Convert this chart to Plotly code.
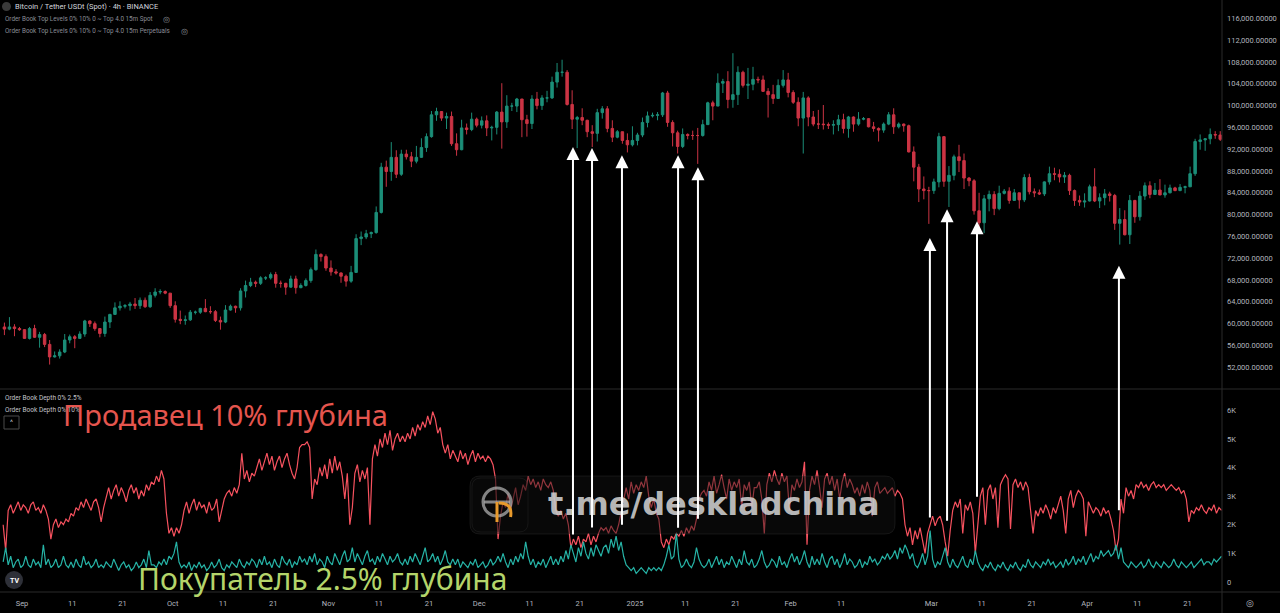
import pandas as pd
import plotly.graph_objects as go

# ---------------- DATA ----------------
# Daily BTC/USDT candles (thousands of USDT), 2024-08-28 .. 2025-04-27
price_first_day = "2024-08-28 12:00"
price_open = [
    59.4, 59.0, 59.4, 59.1,
    58.9, 57.3, 59.1, 57.5, 58.0, 56.2, 53.9, 54.1, 54.8, 57.0, 57.6, 57.3, 58.1, 60.5, 60.0, 59.1, 58.2, 60.3, 61.7, 62.9, 63.2, 63.3, 63.6, 63.3, 64.3, 63.1, 65.2, 65.8, 65.9, 65.6,
    63.3, 60.8, 60.6, 60.7, 62.1, 62.1, 62.8, 62.2, 62.2, 60.6, 60.3, 62.5, 63.2, 62.9, 66.0, 67.0, 67.6, 67.4, 68.4, 68.4, 69.0, 67.4, 67.4, 66.7, 68.2, 66.6, 67.0, 67.9, 69.9, 72.7, 72.3,
    70.2, 69.5, 69.3, 68.7, 67.8, 69.4, 75.6, 75.9, 76.5, 76.7, 80.4, 88.7, 87.9, 90.5, 87.4, 91.1, 90.6, 89.8, 90.5, 92.3, 94.3, 98.3, 98.9, 97.7, 98.0, 93.0, 91.9, 95.9, 95.6, 97.5,
    96.4, 97.2, 95.9, 96.0, 98.8, 97.0, 99.9, 99.9, 101.2, 97.4, 96.7, 101.2, 100.0, 101.4, 101.4, 104.3, 106.1, 106.1, 100.2, 97.5, 97.8, 97.3, 95.2, 94.9, 98.7, 99.4, 95.8, 94.2, 95.2, 93.6, 92.8,
    93.6, 94.6, 96.9, 98.1, 98.2, 98.3, 102.3, 96.9, 95.0, 92.5, 94.7, 94.5, 94.5, 94.5, 96.5, 100.5, 99.9, 104.1, 104.4, 101.1, 102.0, 106.1, 103.7, 103.9, 104.8, 104.7, 102.6, 102.0, 101.3, 103.7, 104.7,
    102.4, 100.6, 97.7, 101.4, 97.9, 96.6, 96.6, 96.5, 96.4, 96.5, 97.4, 95.8, 97.9, 96.6, 97.5, 97.6, 96.1, 95.8, 95.5, 96.6, 98.3, 96.1, 96.6, 96.3, 91.5, 88.7, 84.7, 84.4,
    84.4, 86.0, 94.3, 86.1, 87.2, 90.6, 89.9, 86.7, 86.2, 80.7, 78.5, 82.9, 83.7, 81.1, 83.9, 84.3, 82.6, 84.0, 82.7, 86.8, 84.2, 84.0, 83.8, 86.0, 87.5, 87.4, 86.9, 87.2, 84.4, 82.6, 82.3,
    82.5, 85.1, 82.5, 83.1, 83.8, 83.5, 78.4, 79.1, 76.3, 82.6, 79.6, 83.4, 85.3, 83.7, 84.5, 83.6, 84.0, 84.9, 84.4, 85.0, 85.1, 87.5, 93.4, 93.7, 93.9, 94.7, 94.6,
]
price_high = [
    60.2, 61.2, 59.9, 59.4,
    59.0, 59.4, 59.8, 58.5, 58.3, 57.0, 54.9, 55.3, 58.1, 58.0, 57.9, 58.6, 60.7, 60.6, 60.4, 59.2, 61.3, 61.8, 63.9, 64.1, 63.6, 64.0, 64.7, 64.8, 64.8, 65.8, 66.5, 66.3, 66.1, 65.6,
    64.1, 62.4, 61.5, 62.5, 62.4, 62.9, 64.5, 63.2, 62.5, 61.3, 63.4, 63.5, 63.3, 66.5, 67.9, 68.4, 67.9, 68.7, 68.7, 69.4, 69.5, 67.9, 67.5, 68.8, 68.8, 67.4, 68.3, 70.3, 73.6, 72.9, 72.7,
    71.6, 70.0, 69.4, 69.0, 70.6, 76.4, 76.9, 77.2, 76.9, 81.5, 89.5, 89.9, 93.3, 91.8, 91.9, 91.9, 91.5, 92.6, 94.0, 94.9, 99.0, 99.6, 99.0, 98.7, 98.9, 94.9, 97.4, 96.7, 98.7, 97.8,
    98.0, 98.2, 96.3, 99.0, 104.1, 101.9, 100.5, 101.4, 101.2, 98.3, 101.9, 102.5, 101.9, 102.7, 105.3, 107.8, 108.4, 106.5, 102.8, 98.1, 99.5, 97.4, 96.4, 99.4, 99.9, 99.9, 97.3, 95.5, 95.2, 94.9, 96.2,
    95.0, 97.8, 98.9, 98.7, 98.8, 102.5, 102.7, 97.3, 95.4, 95.8, 94.9, 95.4, 95.9, 97.4, 100.7, 100.9, 105.9, 104.9, 106.3, 109.6, 107.2, 106.4, 106.9, 107.1, 105.3, 105.5, 103.2, 103.8, 104.8, 106.5, 106.0,
    102.8, 101.5, 102.5, 101.7, 99.0, 99.2, 100.1, 96.9, 97.3, 98.3, 98.5, 98.1, 98.0, 98.8, 97.9, 97.7, 97.0, 96.0, 96.9, 98.8, 99.5, 96.9, 96.7, 96.5, 92.5, 89.3, 87.0, 85.1,
    86.6, 95.0, 94.4, 88.9, 91.0, 92.8, 91.2, 86.9, 86.5, 84.0, 83.6, 84.4, 84.3, 85.3, 84.7, 85.0, 84.7, 84.0, 87.4, 87.5, 84.8, 84.6, 86.1, 88.8, 88.6, 88.3, 87.8, 87.5, 84.6, 83.5, 83.9,
    85.5, 88.5, 83.9, 84.7, 84.2, 83.8, 81.2, 80.8, 83.6, 82.7, 84.3, 85.9, 86.1, 85.8, 86.5, 85.5, 85.5, 85.1, 85.6, 85.3, 88.8, 93.9, 94.7, 94.0, 95.8, 95.3, 95.3,
]
price_low = [
    57.9, 58.8, 57.7, 58.7,
    57.2, 57.1, 57.4, 55.6, 55.7, 52.5, 53.8, 53.6, 54.6, 56.4, 55.5, 57.3, 57.6, 59.4, 58.7, 57.5, 57.6, 59.2, 61.6, 62.4, 62.8, 62.4, 62.7, 62.7, 62.9, 62.9, 64.8, 65.4, 65.4, 62.9,
    60.2, 59.9, 59.8, 60.5, 61.7, 61.8, 62.1, 61.8, 60.3, 58.9, 60.1, 62.4, 62.0, 62.4, 64.8, 66.7, 66.7, 67.1, 68.0, 68.1, 66.6, 66.6, 65.3, 66.6, 65.5, 66.5, 66.8, 67.5, 69.7, 71.4, 69.7,
    68.8, 69.0, 67.5, 66.8, 67.5, 69.3, 74.4, 75.5, 75.7, 76.5, 80.2, 85.1, 86.2, 86.7, 87.1, 90.1, 88.7, 89.4, 90.4, 91.5, 94.1, 97.2, 97.2, 95.7, 92.6, 90.8, 91.8, 94.7, 95.3, 96.0,
    95.8, 94.4, 93.6, 94.7, 92.1, 95.9, 99.0, 98.8, 94.2, 94.3, 95.7, 99.3, 99.2, 100.6, 101.2, 103.3, 105.3, 100.0, 95.7, 92.2, 96.4, 94.2, 92.4, 93.4, 97.6, 95.1, 93.3, 94.0, 93.0, 91.4, 92.5,
    92.7, 94.2, 96.0, 97.8, 97.3, 97.9, 96.1, 92.5, 91.2, 92.2, 93.8, 93.7, 89.3, 94.3, 96.5, 97.3, 99.9, 102.3, 99.5, 99.6, 100.1, 103.3, 101.2, 102.8, 104.1, 102.5, 97.8, 100.3, 101.3, 103.3, 101.5,
    100.3, 96.2, 91.2, 96.2, 96.2, 95.7, 95.6, 95.7, 94.7, 95.3, 94.9, 94.1, 95.2, 96.3, 97.3, 96.0, 95.2, 93.4, 95.0, 96.4, 94.8, 95.8, 95.2, 91.4, 86.1, 82.3, 82.8, 78.3,
    83.8, 85.0, 85.1, 81.4, 86.3, 87.8, 84.7, 85.2, 80.0, 77.5, 76.6, 80.6, 79.9, 80.8, 83.7, 82.0, 82.5, 81.1, 82.3, 83.7, 83.2, 83.6, 83.4, 85.5, 86.3, 85.9, 85.8, 83.6, 81.6, 81.6, 81.3,
    82.4, 82.3, 81.2, 81.7, 82.4, 77.2, 74.5, 76.2, 74.6, 78.5, 78.9, 82.7, 83.0, 83.7, 83.6, 83.1, 83.9, 84.3, 84.3, 83.9, 85.1, 87.1, 91.9, 91.7, 92.9, 93.9, 93.5,
]
price_close = [
    59.0, 59.4, 59.1, 58.9,
    57.3, 59.1, 57.5, 58.0, 56.2, 53.9, 54.1, 54.8, 57.0, 57.6, 57.3, 58.1, 60.5, 60.0, 59.1, 58.2, 60.3, 61.7, 62.9, 63.2, 63.3, 63.6, 63.3, 64.3, 63.1, 65.2, 65.8, 65.9, 65.6, 63.3,
    60.8, 60.6, 60.7, 62.1, 62.1, 62.8, 62.2, 62.2, 60.6, 60.3, 62.5, 63.2, 62.9, 66.0, 67.0, 67.6, 67.4, 68.4, 68.4, 69.0, 67.4, 67.4, 66.7, 68.2, 66.6, 67.0, 67.9, 69.9, 72.7, 72.3, 70.2,
    69.5, 69.3, 68.7, 67.8, 69.4, 75.6, 75.9, 76.5, 76.7, 80.4, 88.7, 87.9, 90.5, 87.4, 91.1, 90.6, 89.8, 90.5, 92.3, 94.3, 98.3, 98.9, 97.7, 98.0, 93.0, 91.9, 95.9, 95.6, 97.5, 96.4,
    97.2, 95.9, 96.0, 98.8, 97.0, 99.9, 99.9, 101.2, 97.4, 96.7, 101.2, 100.0, 101.4, 101.4, 104.3, 106.1, 106.1, 100.2, 97.5, 97.8, 97.3, 95.2, 94.9, 98.7, 99.4, 95.8, 94.2, 95.2, 93.6, 92.8, 93.6,
    94.6, 96.9, 98.1, 98.2, 98.3, 102.3, 96.9, 95.0, 92.5, 94.7, 94.5, 94.5, 94.5, 96.5, 100.5, 99.9, 104.1, 104.4, 101.1, 102.0, 106.1, 103.7, 103.9, 104.8, 104.7, 102.6, 102.0, 101.3, 103.7, 104.7, 102.4,
    100.6, 97.7, 101.4, 97.9, 96.6, 96.6, 96.5, 96.4, 96.5, 97.4, 95.8, 97.9, 96.6, 97.5, 97.6, 96.1, 95.8, 95.5, 96.6, 98.3, 96.1, 96.6, 96.3, 91.5, 88.7, 84.7, 84.4, 84.4,
    86.0, 94.3, 86.1, 87.2, 90.6, 89.9, 86.7, 86.2, 80.7, 78.5, 82.9, 83.7, 81.1, 83.9, 84.3, 82.6, 84.0, 82.7, 86.8, 84.2, 84.0, 83.8, 86.0, 87.5, 87.4, 86.9, 87.2, 84.4, 82.6, 82.3, 82.5,
    85.1, 82.5, 83.1, 83.8, 83.5, 78.4, 79.1, 76.3, 82.6, 79.6, 83.4, 85.3, 83.7, 84.5, 83.6, 84.0, 84.9, 84.4, 85.0, 85.1, 87.5, 93.4, 93.7, 93.9, 94.7, 94.6, 93.8,
]

# Order book depth (thousands), twice a day, 2024-08-28 06:00 .. 2025-04-27 18:00
depth_first_point = "2024-08-28 06:00"
sell_depth_10pct = [
    2.0, 1.1, 2.5, 2.7, 2.4, 2.6, 2.8, 2.5, 2.7, 2.6, 2.4, 2.7, 2.8, 2.5, 2.6, 2.4, 2.7, 2.5, 2.2, 1.5,
    2.0, 2.2, 1.9, 2.1, 2.0, 2.2, 2.1, 2.4, 2.3, 2.6, 2.5, 2.8, 2.6, 2.9, 2.7, 2.5, 2.8, 2.9, 2.6, 2.1,
    2.6, 3.0, 3.3, 2.9, 3.2, 3.4, 3.0, 3.3, 3.1, 2.8, 3.2, 3.4, 3.1, 3.3, 2.9, 3.2, 3.0, 3.4, 3.2, 3.5,
    3.4, 3.7, 3.5, 3.9, 3.6, 2.4, 1.7, 1.9, 1.6, 1.9, 1.7, 2.0, 2.5, 2.8, 2.4, 2.7, 2.9, 2.5, 2.8, 2.6,
    2.7, 2.4, 2.8, 2.5, 2.6, 2.9, 2.1, 2.5, 2.9, 3.1, 3.2, 3.0, 3.3, 3.1, 3.4, 4.5, 3.6, 3.9, 3.5, 3.8,
    3.7, 4.0, 4.3, 3.9, 4.2, 4.5, 4.1, 4.4, 3.9, 4.2, 4.4, 4.0, 4.3, 4.5, 4.1, 3.8, 3.6, 4.0, 4.7, 4.8,
    4.8, 4.9, 4.7, 2.9, 3.6, 3.4, 4.0, 3.7, 4.1, 3.6, 4.3, 3.8, 4.4, 3.9, 4.2, 3.7, 2.9, 3.8, 2.0, 2.6,
    3.8, 4.1, 3.5, 3.9, 3.6, 4.0, 2.0, 4.3, 4.8, 4.4, 5.0, 4.7, 5.2, 4.8, 5.3, 4.6, 5.0, 5.2, 4.9, 5.1,
    4.9, 5.2, 5.0, 5.4, 5.1, 5.5, 5.3, 5.6, 5.4, 5.8, 5.5, 5.95, 5.7, 5.2, 5.4, 4.8, 4.5, 4.8, 4.3, 4.6,
    4.4, 4.2, 4.6, 4.3, 4.5, 4.1, 4.4, 4.6, 4.2, 4.5, 4.3, 4.4, 4.2, 4.4, 4.3, 4.1, 3.6, 1.5, 2.3, 2.8,
    2.6, 3.1, 2.5, 2.9, 3.3, 2.7, 3.0, 3.4, 3.2, 3.7, 3.4, 3.6, 3.3, 3.5, 3.2, 3.6, 3.4, 3.3, 3.5, 3.2,
    2.5, 2.3, 2.5, 2.2, 2.4, 2.0, 1.2, 1.5, 1.3, 1.6, 1.2, 1.5, 1.4, 1.7, 1.3, 1.6, 1.4, 1.7, 1.9, 1.8,
    1.9, 1.7, 1.96, 1.8, 1.7, 2.0, 2.4, 2.9, 3.3, 2.9, 3.5, 3.1, 3.4, 3.2, 3.5, 3.3, 3.7, 3.0, 2.6, 2.9,
    2.4, 2.2, 1.4, 1.2, 1.5, 1.3, 1.6, 1.5, 1.7, 1.6, 1.8, 1.6, 1.9, 1.7, 1.96, 1.8, 2.2, 2.9, 3.1, 3.2,
    3.0, 3.5, 3.2, 3.7, 3.1, 3.4, 3.75, 3.3, 2.9, 3.6, 3.2, 3.5, 3.3, 3.6, 2.6, 3.4, 3.2, 3.5, 2.6, 3.3,
    3.3, 3.5, 2.9, 1.7, 3.4, 3.8, 3.5, 3.9, 3.6, 3.4, 3.8, 3.5, 3.7, 2.5, 3.4, 3.2, 3.6, 3.3, 3.5, 4.2,
    1.3, 3.2, 3.7, 3.4, 3.9, 3.3, 2.6, 3.6, 3.8, 3.4, 3.7, 3.2, 3.6, 2.9, 3.5, 3.8, 3.3, 3.6, 3.4, 3.1,
    3.3, 3.0, 3.4, 3.1, 3.5, 3.2, 2.3, 3.3, 3.5, 3.1, 3.2, 3.3, 3.1, 3.2, 3.3, 3.0, 3.2, 3.1, 2.9, 2.0,
    1.6, 1.9, 1.3, 1.8, 1.5, 1.9, 1.4, 1.0, 1.7, 2.0, 2.3, 1.96, 2.2, 2.3, 2.0, 1.4, 0.9, 1.8, 2.5, 2.8,
    2.6, 2.9, 1.7, 2.7, 2.5, 2.8, 2.4, 1.0, 2.0, 3.0, 3.3, 2.0, 3.2, 3.4, 2.9, 3.3, 1.9, 3.4, 3.6, 3.75,
    3.6, 1.85, 3.4, 3.6, 3.3, 3.5, 3.2, 3.5, 3.3, 2.4, 1.7, 2.5, 2.3, 2.6, 2.4, 2.7, 2.5, 2.2, 2.6, 2.4,
    2.7, 3.0, 2.5, 1.7, 2.9, 3.2, 2.6, 3.0, 3.2, 3.1, 2.9, 1.6, 2.8, 2.6, 2.4, 2.6, 2.5, 2.3, 2.6, 2.4,
    2.5, 2.2, 1.8, 1.1, 1.5, 2.9, 2.4, 3.3, 3.0, 3.2, 2.9, 3.4, 3.3, 3.5, 3.3, 3.4, 3.2, 3.4, 3.5, 3.3,
    3.4, 3.3, 3.4, 3.2, 3.3, 3.4, 3.3, 3.2, 3.3, 3.1, 3.2, 2.9, 2.1, 2.5, 2.4, 2.6, 2.5, 2.7, 2.5, 2.4,
    2.6, 2.5, 2.7, 2.4, 2.6, 2.5,
]
buy_depth_2_5pct = [
    0.7, 1.2, 0.6, 0.9, 0.5, 0.7, 0.8, 0.5, 0.6, 0.9, 0.6, 0.5, 0.8, 0.6, 0.7, 0.5, 1.3, 0.6, 0.8, 0.5,
    0.6, 0.8, 0.5, 0.6, 0.9, 0.6, 0.5, 0.7, 0.5, 0.8, 0.6, 0.5, 0.9, 0.6, 0.7, 0.5, 0.6, 0.8, 0.5, 0.6,
    0.5, 0.7, 0.6, 0.5, 0.8, 0.6, 0.4, 0.6, 0.7, 0.5, 0.6, 0.4, 0.5, 0.7, 0.5, 0.6, 0.8, 0.5, 1.1, 0.6,
    0.6, 0.5, 0.7, 0.6, 0.8, 0.6, 0.9, 0.8, 1.0, 1.4, 0.7, 0.5, 0.6, 0.5, 0.7, 0.4, 0.6, 0.5, 0.7, 0.5,
    0.6, 0.4, 0.5, 0.7, 0.5, 0.6, 0.8, 0.5, 0.4, 0.6, 0.5, 0.7, 0.6, 0.5, 0.8, 0.6, 0.5, 0.7, 0.6, 0.8,
    0.7, 0.5, 0.8, 0.6, 0.9, 0.6, 0.7, 0.5, 0.8, 0.6, 0.5, 0.9, 0.7, 0.6, 0.8, 0.5, 0.7, 0.6, 0.9, 0.7,
    0.8, 0.6, 0.9, 0.7, 1.0, 0.6, 0.8, 0.7, 0.5, 0.9, 0.7, 0.6, 1.0, 0.8, 0.6, 0.9, 1.1, 0.7, 0.8, 1.2,
    0.7, 1.0, 0.8, 0.6, 0.9, 1.1, 0.7, 0.8, 0.6, 0.9, 0.7, 1.0, 0.8, 0.6, 0.9, 0.7, 0.8, 1.0, 0.7, 0.6,
    0.8, 0.6, 0.9, 0.7, 1.0, 0.8, 0.6, 0.9, 1.2, 0.7, 0.8, 1.0, 0.7, 0.9, 0.6, 0.8, 1.1, 0.7, 0.6, 0.8,
    0.6, 0.8, 0.5, 0.7, 0.6, 0.5, 0.7, 0.6, 0.8, 0.5, 0.6, 0.7, 0.5, 0.6, 0.8, 0.6, 0.7, 0.9, 0.7, 1.0,
    0.7, 0.5, 0.8, 0.6, 0.9, 0.7, 1.0, 0.8, 1.4, 0.9, 0.6, 0.8, 0.5, 0.7, 0.6, 0.8, 0.5, 0.7, 0.9, 0.6,
    0.8, 0.6, 0.9, 0.7, 1.1, 0.8, 1.3, 1.0, 0.7, 1.2, 0.9, 1.4, 1.0, 0.8, 1.2, 0.9, 1.3, 1.1, 0.9, 1.2,
    1.3, 1.0, 1.5, 1.2, 1.6, 1.1, 1.4, 0.9, 0.6, 0.5, 0.4, 0.5, 0.3, 0.4, 0.5, 0.4, 0.3, 0.5, 0.4, 0.5,
    0.4, 0.5, 0.4, 0.6, 0.9, 1.3, 0.8, 0.9, 1.7, 0.8, 0.5, 0.6, 0.8, 0.6, 0.5, 0.7, 1.2, 0.8, 0.6, 0.5,
    0.6, 0.8, 0.5, 0.7, 0.9, 0.6, 0.8, 0.5, 0.7, 0.6, 0.9, 0.7, 0.5, 0.8, 0.6, 1.1, 0.7, 0.6, 0.8, 0.5,
    0.6, 0.8, 1.1, 0.7, 0.5, 0.6, 0.8, 0.7, 0.5, 0.9, 0.6, 0.7, 0.5, 0.8, 1.0, 0.7, 0.9, 0.6, 0.8, 1.1,
    0.7, 0.5, 0.9, 0.6, 0.8, 0.6, 1.0, 0.7, 0.5, 0.8, 0.9, 0.6, 0.8, 0.5, 0.7, 1.0, 0.6, 0.8, 0.7, 0.5,
    0.6, 0.8, 0.5, 0.7, 0.6, 0.9, 0.7, 0.8, 0.6, 0.7, 0.9, 0.8, 1.0, 0.8, 0.9, 1.1, 0.8, 1.2, 1.0, 1.3,
    1.1, 0.8, 1.0, 0.6, 0.5, 0.7, 1.0, 0.6, 0.9, 1.8, 0.8, 0.5, 0.7, 0.6, 0.9, 1.2, 0.7, 0.5, 0.8, 0.6,
    0.5, 0.7, 0.9, 0.6, 0.5, 0.8, 0.6, 1.1, 0.7, 0.5, 0.4, 0.6, 0.5, 0.7, 0.5, 0.4, 0.6, 0.5, 0.7, 0.5,
    0.4, 0.6, 0.5, 0.7, 0.5, 0.4, 0.6, 0.5, 0.8, 0.6, 0.5, 0.7, 0.6, 0.5, 0.7, 0.6, 0.8, 0.6, 0.7, 0.5,
    0.6, 0.7, 0.5, 0.8, 0.6, 0.7, 0.9, 0.6, 0.8, 0.7, 0.9, 0.6, 0.8, 1.0, 0.7, 0.9, 0.8, 1.1, 0.9, 1.0,
    1.1, 0.9, 1.0, 1.3, 0.8, 1.2, 0.7, 0.6, 0.5, 0.7, 0.6, 0.5, 0.6, 0.7, 0.5, 0.6, 0.8, 0.6, 0.5, 0.7,
    0.6, 0.5, 0.7, 0.6, 0.5, 0.6, 0.8, 0.6, 0.5, 0.7, 0.6, 0.5, 0.6, 0.7, 0.5, 0.6, 0.7, 0.8, 0.6, 0.7,
    0.7, 0.6, 0.8, 0.7, 0.8, 0.9,
]

# Arrows: date of the low pointed at, price at arrow tip, tail length in px
arrow_dates = ["2024-12-19 16:00", "2024-12-23 11:00", "2024-12-29 10:00", "2025-01-09 14:00",
               "2025-01-13 13:00", "2025-02-28 17:00", "2025-03-04 03:00", "2025-03-10 02:00",
               "2025-04-07 08:00"]
arrow_tip_price = [92400, 92200, 90900, 90900, 88700, 75700, 81000, 78800, 70600]
arrow_tail_px = [389, 381, 371, 374, 353, 281, 313, 277, 246]

price_ticks = list(range(52000, 116001, 4000))
depth_ticks = [0, 1000, 2000, 3000, 4000, 5000, 6000]
depth_tick_text = ["0", "1K", "2K", "3K", "4K", "5K", "6K"]
date_ticks = ["2024-09-01", "2024-09-11", "2024-09-21", "2024-10-01", "2024-10-11", "2024-10-21",
              "2024-11-01", "2024-11-11", "2024-11-21", "2024-12-01", "2024-12-11", "2024-12-21",
              "2025-01-01", "2025-01-11", "2025-01-21", "2025-02-01", "2025-02-11", "2025-03-01",
              "2025-03-11", "2025-03-21", "2025-04-01", "2025-04-11", "2025-04-21"]
date_tick_text = ["Sep", "11", "21", "Oct", "11", "21", "Nov", "11", "21", "Dec", "11", "21",
                  "2025", "11", "21", "Feb", "11", "Mar", "11", "21", "Apr", "11", "21"]

# ---------------- FIGURE ----------------
W, H = 1280, 613
ML, MR, MT, MB = 0, 58, 0, 21
PW, PH = W - ML - MR, H - MT - MB
SPLIT = (PH - 389) / PH


def px(xp, yp):
    return xp / PW, (PH - yp) / PH


n_p = min(len(price_open), len(price_high), len(price_low), len(price_close))
price_dates = pd.date_range(price_first_day, periods=n_p, freq="D")
k = 1000.0
n_d = min(len(sell_depth_10pct), len(buy_depth_2_5pct))
depth_dates = pd.date_range(depth_first_point, periods=n_d, freq="12h")

UP, DN = "#1f9e86", "#e23a4c"
RED_LINE, TEAL_LINE = "#f7525f", "#26b3a6"
AXIS_TXT = "#b2b5be"
BG = "#000000"

fig = go.Figure()
fig.add_trace(go.Candlestick(
    x=price_dates,
    open=[v * k for v in price_open[:n_p]], high=[v * k for v in price_high[:n_p]],
    low=[v * k for v in price_low[:n_p]], close=[v * k for v in price_close[:n_p]],
    increasing=dict(line=dict(color=UP, width=1), fillcolor=UP),
    decreasing=dict(line=dict(color=DN, width=1), fillcolor=DN),
    xaxis="x", yaxis="y", showlegend=False, hoverinfo="skip", opacity=0.9))
fig.add_trace(go.Scatter(x=depth_dates, y=[v * k for v in sell_depth_10pct[:n_d]], mode="lines",
                         line=dict(color=RED_LINE, width=1.2), xaxis="x", yaxis="y2",
                         showlegend=False, hoverinfo="skip"))
fig.add_trace(go.Scatter(x=depth_dates, y=[v * k for v in buy_depth_2_5pct[:n_d]], mode="lines",
                         line=dict(color=TEAL_LINE, width=1.2), xaxis="x", yaxis="y2",
                         showlegend=False, hoverinfo="skip"))

tick_font = dict(family="Roboto, Arial, sans-serif", size=7.5, color=AXIS_TXT)
fig.update_layout(
    width=W, height=H, margin=dict(l=ML, r=MR, t=MT, b=MB, autoexpand=False),
    paper_bgcolor=BG, plot_bgcolor=BG, showlegend=False,
    xaxis=dict(domain=[0, 1], anchor="y2", range=["2024-08-27 14:54", "2025-04-27 20:24"],
               tickmode="array", tickvals=date_ticks, ticktext=date_tick_text,
               showgrid=False, zeroline=False, showline=False, ticks="",
               ticklabelstandoff=5, tickfont=tick_font, rangeslider=dict(visible=False)),
    yaxis=dict(domain=[SPLIT, 1], anchor="x", side="right", range=[48019, 119356],
               tickmode="array", tickvals=price_ticks, tickformat=",.5f",
               showgrid=False, zeroline=False, showline=False, ticks="",
               ticklabelstandoff=4, tickfont=tick_font),
    yaxis2=dict(domain=[0, SPLIT], anchor="x", side="right", range=[-349, 6743],
                tickmode="array", tickvals=depth_ticks, ticktext=depth_tick_text,
                showgrid=False, zeroline=False, showline=False, ticks="",
                ticklabelstandoff=4, tickfont=tick_font),
)

shapes = []
sep = "#2b2b2b"
# pane separator, axis separator, bottom line
shapes.append(dict(type="line", xref="paper", yref="paper", x0=0, x1=W / PW, y0=SPLIT, y1=SPLIT,
                   line=dict(color=sep, width=1)))
shapes.append(dict(type="line", xref="paper", yref="paper", x0=1, x1=1, y0=-MB / PH, y1=1,
                   line=dict(color=sep, width=1)))
shapes.append(dict(type="line", xref="paper", yref="paper", x0=0, x1=W / PW, y0=0, y1=0,
                   line=dict(color=sep, width=1)))


def rrect(x0, y0, x1, y1, r):
    ax0, ay0 = px(x0, y0)
    ax1, ay1 = px(x1, y1)
    rx = r / PW
    ry = r / PH
    return (f"M {ax0 + rx},{ay0} L {ax1 - rx},{ay0} Q {ax1},{ay0} {ax1},{ay0 - ry} "
            f"L {ax1},{ay1 + ry} Q {ax1},{ay1} {ax1 - rx},{ay1} L {ax0 + rx},{ay1} "
            f"Q {ax0},{ay1} {ax0},{ay1 + ry} L {ax0},{ay0 - ry} Q {ax0},{ay0} {ax0 + rx},{ay0} Z")


# watermark box and logo box
shapes.append(dict(type="path", xref="paper", yref="paper", path=rrect(470, 476, 895, 534, 10),
                   fillcolor="rgba(18,18,18,0.45)", line=dict(color="rgba(255,255,255,0.07)", width=1),
                   layer="above"))
shapes.append(dict(type="path", xref="paper", yref="paper", path=rrect(472, 478, 528, 532, 9),
                   fillcolor="rgba(10,10,10,0.3)", line=dict(color="rgba(255,255,255,0.06)", width=1),
                   layer="above"))
cx0, cy0 = px(483, 488)
cx1, cy1 = px(511, 516)
shapes.append(dict(type="circle", xref="paper", yref="paper", x0=cx0, y0=cy1, x1=cx1, y1=cy0,
                   line=dict(color="rgba(185,185,185,0.7)", width=3), layer="above"))
hx0, hy = px(484, 502)
hx1, _ = px(510, 502)
shapes.append(dict(type="line", xref="paper", yref="paper", x0=hx0, x1=hx1, y0=hy, y1=hy,
                   line=dict(color="rgba(185,185,185,0.7)", width=3), layer="above"))
vx, vy0 = px(497, 502)
_, vy1 = px(497, 522)
shapes.append(dict(type="line", xref="paper", yref="paper", x0=vx, x1=vx, y0=vy0, y1=vy1,
                   line=dict(color="#e89a2c", width=3), layer="above"))
ox0, oy0 = px(499, 503)
ox1, oy1 = px(513, 517)
shapes.append(dict(type="path", xref="paper", yref="paper",
                   path=f"M {ox0},{oy0} Q {ox1},{oy0} {ox1 - 0.002},{oy1}",
                   line=dict(color="#e89a2c", width=3), layer="above"))

# TradingView badge
tx0, ty0 = px(5, 571)
tx1, ty1 = px(23, 589)
shapes.append(dict(type="circle", xref="paper", yref="paper", x0=tx0, y0=ty1, x1=tx1, y1=ty0,
                   fillcolor="#2e3038", line=dict(width=0)))
# collapse box in lower pane
bx0, by0 = px(4, 416)
bx1, by1 = px(19, 429)
shapes.append(dict(type="rect", xref="paper", yref="paper", x0=bx0, y0=by1, x1=bx1, y1=by0,
                   line=dict(color="#4a4a4a", width=1), fillcolor=BG))
# symbol icon
ix0, iy0 = px(2, 2)
ix1, iy1 = px(11, 11)
shapes.append(dict(type="circle", xref="paper", yref="paper", x0=ix0, y0=iy1, x1=ix1, y1=iy0,
                   fillcolor="#3a3a3a", line=dict(width=0)))
fig.update_layout(shapes=shapes)

ann = []


def text(xp, yp, s, size, color, family="Roboto, Arial, sans-serif", xanchor="left", weight="normal"):
    ax, ay = px(xp, yp)
    ann.append(dict(x=ax, y=ay, xref="paper", yref="paper", text=s, showarrow=False,
                    xanchor=xanchor, yanchor="middle",
                    font=dict(family=family, size=size, color=color, weight=weight)))


text(13, 6.5, "Bitcoin / Tether USDt (Spot) · 4h · BINANCE", 7.5, "#d1d4dc")
text(3, 19, "Order Book Top Levels 0% 10% 0 ~ Top 4.0 15m Spot", 6.3, "#8a8d96")
text(3, 31, "Order Book Top Levels 0% 10% 0 ~ Top 4.0 15m Perpetuals", 6.3, "#8a8d96")
text(166, 19, "◎", 8, "#8a8d96", xanchor="center")
text(184, 31, "◎", 8, "#8a8d96", xanchor="center")
text(3, 398, "Order Book Depth 0% 2.5%", 6.5, "#c2c4ca")
text(3, 410, "Order Book Depth 0% 10%", 6.5, "#c2c4ca")
text(11.5, 423, "^", 7, "#c2c4ca", xanchor="center")
text(14, 580.5, "TV", 7, "#ffffff", xanchor="center", weight="bold")
text(1250, 603, "◎", 9, AXIS_TXT, xanchor="center")
text(61, 414, "Продавец 10% глубина", 29, "#e5554e", family="Noto Sans, sans-serif")
text(136, 578.5, "Покупатель 2.5% глубина", 30, "#b4d46a", family="Noto Sans, sans-serif")
text(546, 504, "t.me/deskladchina", 32, "rgba(215,215,215,0.85)", family="DejaVu Sans, sans-serif",
     weight="bold")

for d, p, tail in zip(arrow_dates, arrow_tip_price, arrow_tail_px):
    ann.append(dict(x=d, y=p, xref="x", yref="y", ax=0, ay=tail, axref="pixel", ayref="pixel",
                    showarrow=True, arrowhead=2, arrowsize=1.3, arrowwidth=2, arrowcolor="#ffffff",
                    text="", standoff=0, startstandoff=0))

fig.update_layout(annotations=ann)
fig.write_html("out.html", post_script="document.body.style.margin='0px';",
               config={"displayModeBar": False})
